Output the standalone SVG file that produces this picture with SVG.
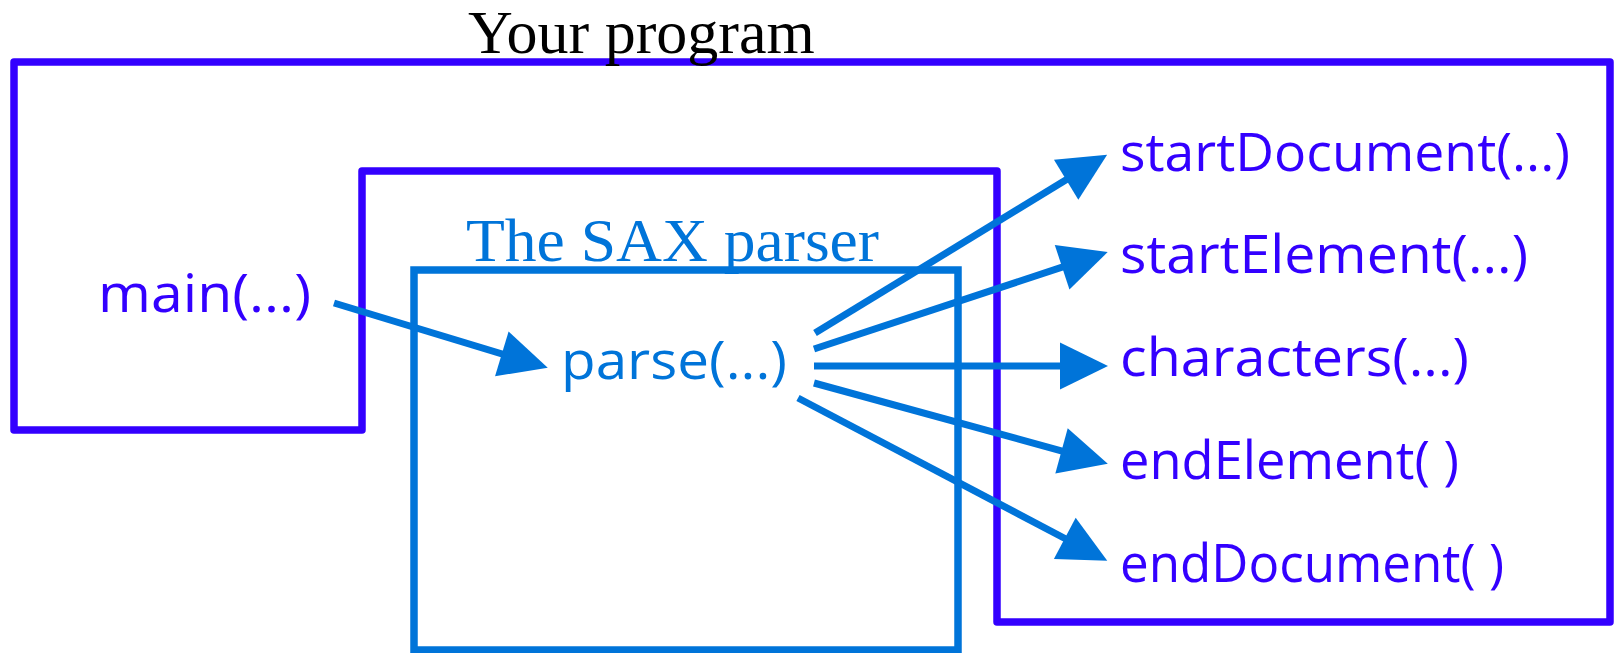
<svg xmlns="http://www.w3.org/2000/svg" width="1614" height="653" viewBox="0 0 1614 653">
<style>
.frame{fill:none;stroke:#3300FF;stroke-width:7.5;stroke-linejoin:round}
.sax{fill:none;stroke:#0074D9;stroke-width:7.5}
.conn{stroke:#0074D9;stroke-width:7;fill:none}
.serif{font-family:"Liberation Serif","Times New Roman",serif;font-size:62px}
.sans{font-family:"Open Sans","Noto Sans","DejaVu Sans",sans-serif;font-size:53px}
.purple{fill:#3300FF}
.blue{fill:#0074D9}
</style>
<defs>
<marker id="arrow" markerUnits="userSpaceOnUse" markerWidth="60" markerHeight="60" viewBox="-15 -25 50 50" refX="0" refY="0" orient="auto">
<path d="M-10,-19.5 L30,0 L-10,19.5 Z" fill="#0074D9"/>
</marker>
</defs>
<rect width="1614" height="653" fill="#FFFFFF"/>
<g id="your-program">
<polygon class="frame" points="14,62 1610,62 1610,622 997,622 997,171 362,171 362,430 14,430"/>
<text class="serif" x="468" y="53" fill="#000000">Your program</text>
</g>
<g id="sax-parser">
<rect class="sax" x="414" y="270" width="544" height="380"/>
<text class="serif blue" x="466" y="261" textLength="413" lengthAdjust="spacingAndGlyphs">The SAX parser</text>
</g>
<g id="main">
<text class="sans purple" x="98" y="312" textLength="213" lengthAdjust="spacingAndGlyphs">main(...)</text>
</g>
<g id="parse">
<text class="sans blue" x="561" y="379" textLength="226" lengthAdjust="spacingAndGlyphs">parse(...)</text>
</g>
<g id="startDocument">
<text class="sans purple" x="1120" y="171" textLength="450" lengthAdjust="spacingAndGlyphs">startDocument(...)</text>
</g>
<g id="startElement">
<text class="sans purple" x="1120" y="273" textLength="408" lengthAdjust="spacingAndGlyphs">startElement(...)</text>
</g>
<g id="characters">
<text class="sans purple" x="1120" y="376" textLength="349" lengthAdjust="spacingAndGlyphs">characters(...)</text>
</g>
<g id="endElement">
<text class="sans purple" x="1120" y="479" textLength="339" lengthAdjust="spacingAndGlyphs">endElement( )</text>
</g>
<g id="endDocument">
<text class="sans purple" x="1120" y="582" textLength="384" lengthAdjust="spacingAndGlyphs">endDocument( )</text>
</g>
<g id="connectors">
<line class="conn" x1="334" y1="303" x2="513.3" y2="357.3" marker-end="url(#arrow)"/>
<line class="conn" x1="815" y1="333" x2="1076.4" y2="173.6" marker-end="url(#arrow)"/>
<line class="conn" x1="814" y1="349" x2="1073.5" y2="263.4" marker-end="url(#arrow)"/>
<line class="conn" x1="814" y1="366" x2="1072" y2="366" marker-end="url(#arrow)"/>
<line class="conn" x1="814" y1="383" x2="1073.1" y2="454.1" marker-end="url(#arrow)"/>
<line class="conn" x1="798" y1="398" x2="1075.4" y2="544" marker-end="url(#arrow)"/>
</g>
</svg>
